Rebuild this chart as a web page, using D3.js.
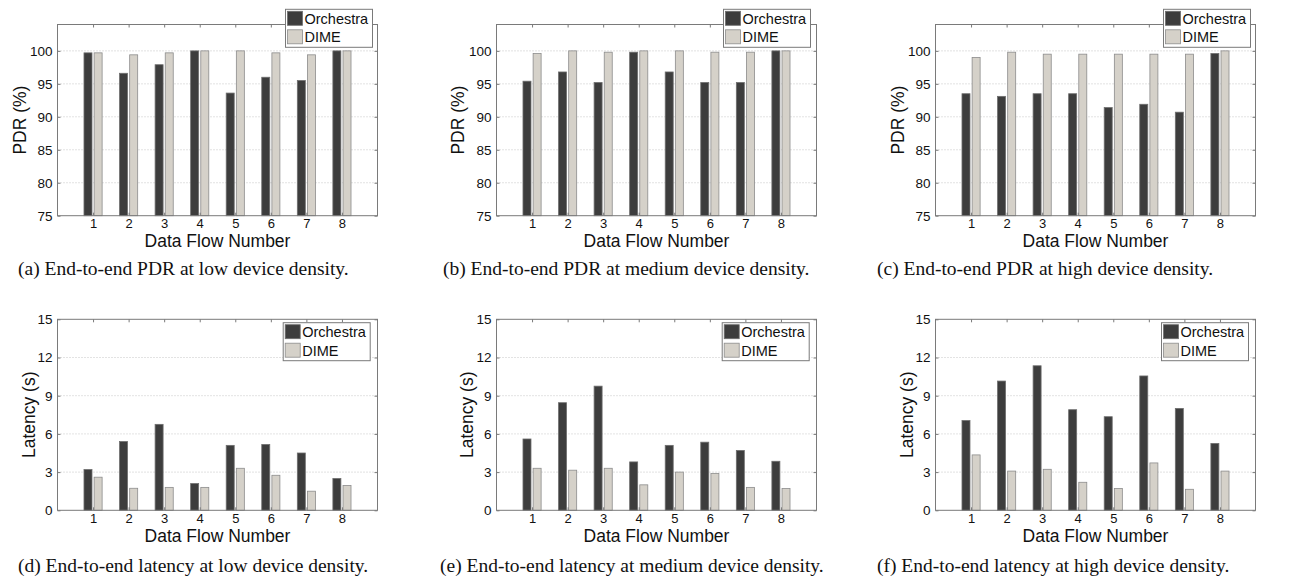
<!DOCTYPE html>
<html>
<head>
<meta charset="utf-8">
<script src="https://cdn.jsdelivr.net/npm/d3@7"></script>
<style>
  body { margin: 0; background: #fff; }
  svg { display: block; }
  text { font-family: Arial, "Liberation Sans", sans-serif; fill: #111; }
  .caption { font-family: "Times New Roman", "Liberation Serif", serif; }
</style>
</head>
<body>
<div id="fig"></div>
<script>
// Data
var flows = [1, 2, 3, 4, 5, 6, 7, 8];
var seriesNames = ["Orchestra", "DIME"];
var pdrTicks = [75, 80, 85, 90, 95, 100];
var latTicks = [0, 3, 6, 9, 12, 15];

var pdrLowOrch  = [99.7, 96.6, 97.9, 100, 93.6, 96.0, 95.5, 100];
var pdrLowDime  = [99.7, 99.4, 99.7, 100, 100, 99.7, 99.4, 100];
var pdrMedOrch  = [95.4, 96.8, 95.2, 99.8, 96.8, 95.2, 95.2, 100];
var pdrMedDime  = [99.6, 100, 99.8, 100, 100, 99.8, 99.8, 100];
var pdrHighOrch = [93.5, 93.1, 93.5, 93.5, 91.4, 91.9, 90.7, 99.6];
var pdrHighDime = [99.0, 99.8, 99.5, 99.5, 99.5, 99.5, 99.5, 100];

var latLowOrch  = [3.2, 5.4, 6.75, 2.1, 5.1, 5.17, 4.5, 2.5];
var latLowDime  = [2.6, 1.73, 1.8, 1.8, 3.3, 2.75, 1.5, 1.95];
var latMedOrch  = [5.6, 8.45, 9.75, 3.8, 5.1, 5.35, 4.7, 3.85];
var latMedDime  = [3.3, 3.15, 3.3, 2.0, 3.0, 2.9, 1.8, 1.72];
var latHighOrch = [7.05, 10.15, 11.35, 7.9, 7.35, 10.55, 8.0, 5.25];
var latHighDime = [4.35, 3.08, 3.22, 2.2, 1.72, 3.72, 1.65, 3.08];

var captions = [
  "(a) End-to-end PDR at low device density.",
  "(b) End-to-end PDR at medium device density.",
  "(c) End-to-end PDR at high device density.",
  "(d) End-to-end latency at low device density.",
  "(e) End-to-end latency at medium device density.",
  "(f) End-to-end latency at high device density."
];

var colors = ["#3d3d3d", "#d5d1c9"];
var edges = ["#6e6e6e", "#8c8c8c"];

// Canvas
var W = 1296, H = 584;
var svg = d3.select("#fig").append("svg")
    .attr("width", W)
    .attr("height", H);

var plotW = 320;
var lefts = [57.5, 496.5, 935.5];

var panels = [
  { orch: pdrLowOrch,  dime: pdrLowDime,  ticks: pdrTicks, dom: [75, 104], top: 24.5,  h: 191.2, ylab: "PDR (%)",     col: 0, legTop: 9.3,   legRight: 5,   labOff: 37.7, capX: 18,  capY: 275 },
  { orch: pdrMedOrch,  dime: pdrMedDime,  ticks: pdrTicks, dom: [75, 104], top: 24.5,  h: 191.2, ylab: "PDR (%)",     col: 1, legTop: 9.3,   legRight: 6,   labOff: 38.5, capX: 443, capY: 275 },
  { orch: pdrHighOrch, dime: pdrHighDime, ticks: pdrTicks, dom: [75, 104], top: 24.5,  h: 191.2, ylab: "PDR (%)",     col: 2, legTop: 9.3,   legRight: 5,   labOff: 37.2, capX: 877, capY: 275 },
  { orch: latLowOrch,  dime: latLowDime,  ticks: latTicks, dom: [0, 15],   top: 319.3, h: 191,   ylab: "Latency (s)", col: 0, legTop: 322.7, legRight: 7.3, labOff: 28.5, capX: 18,  capY: 572 },
  { orch: latMedOrch,  dime: latMedDime,  ticks: latTicks, dom: [0, 15],   top: 319.3, h: 191,   ylab: "Latency (s)", col: 1, legTop: 322.7, legRight: 7.3, labOff: 29.5, capX: 440, capY: 572 },
  { orch: latHighOrch, dime: latHighDime, ticks: latTicks, dom: [0, 15],   top: 319.3, h: 191,   ylab: "Latency (s)", col: 2, legTop: 322.7, legRight: 7,   labOff: 28.5, capX: 877, capY: 572 }
];

panels.forEach(function(p, k) {
    var left = lefts[p.col];
    var g = svg.append("g")
        .attr("transform", "translate(" + left + "," + p.top + ")");

    var x = d3.scaleLinear().domain([0, 9]).range([0, plotW]);
    var y = d3.scaleLinear().domain(p.dom).range([p.h, 0]);

    // white background + grid
    g.append("rect")
        .attr("width", plotW).attr("height", p.h)
        .attr("fill", "#fff");

    g.selectAll(".grid").data(p.ticks.filter(function(t) { return t > p.dom[0] && t < p.dom[1]; }))
        .enter().append("line")
        .attr("x1", 0).attr("x2", plotW)
        .attr("y1", function(d) { return y(d); })
        .attr("y2", function(d) { return y(d); })
        .attr("stroke", "#b8b8b8")
        .attr("stroke-width", 0.8)
        .attr("stroke-dasharray", "1,2");

    // bars
    var bw = 0.225, gap = 0.03;
    var series = [p.orch, p.dime];
    series.forEach(function(vals, s) {
        g.selectAll(".bar" + s).data(flows)
            .enter().append("rect")
            .attr("x", function(d) { return s === 0 ? x(d - gap - bw) : x(d + gap); })
            .attr("width", x(bw) - x(0))
            .attr("y", function(d, i) { return y(vals[i]); })
            .attr("height", function(d, i) { return y(p.dom[0]) - y(vals[i]); })
            .attr("fill", colors[s])
            .attr("stroke", edges[s])
            .attr("stroke-width", 0.8);
    });

    // box
    g.append("rect")
        .attr("width", plotW).attr("height", p.h)
        .attr("fill", "none")
        .attr("stroke", "#7a7a7a")
        .attr("stroke-width", 1);

    // axes (ticks inside, all four sides)
    var tl = 3;
    var xb = g.append("g").attr("transform", "translate(0," + p.h + ")")
        .call(d3.axisBottom(x).tickValues(flows).tickSizeInner(-tl).tickSizeOuter(0));
    xb.select(".domain").remove();
    xb.selectAll(".tick line").attr("stroke", "#7a7a7a");
    xb.selectAll("text").attr("font-size", "13px").attr("fill", "#111").attr("dy", "0.71em").attr("y", 3.5);

    var xt = g.append("g")
        .call(d3.axisTop(x).tickValues(flows).tickSizeInner(-tl).tickSizeOuter(0).tickFormat(""));
    xt.select(".domain").remove();
    xt.selectAll(".tick line").attr("stroke", "#7a7a7a");

    var yl = g.append("g")
        .call(d3.axisLeft(y).tickValues(p.ticks).tickSizeInner(-tl).tickSizeOuter(0));
    yl.select(".domain").remove();
    yl.selectAll(".tick line").attr("stroke", "#7a7a7a");
    yl.selectAll("text").attr("font-size", "13.5px").attr("fill", "#111").attr("x", -5);

    var yr = g.append("g").attr("transform", "translate(" + plotW + ",0)")
        .call(d3.axisRight(y).tickValues(p.ticks).tickSizeInner(-tl).tickSizeOuter(0).tickFormat(""));
    yr.select(".domain").remove();
    yr.selectAll(".tick line").attr("stroke", "#7a7a7a");

    // axis titles
    g.append("text")
        .attr("x", plotW / 2)
        .attr("y", p.h + 31.5)
        .attr("text-anchor", "middle")
        .attr("font-size", "17.5px")
        .text("Data Flow Number");

    g.append("text")
        .attr("transform", "translate(" + (-p.labOff + 6) + "," + (p.h / 2) + ") rotate(-90)")
        .attr("text-anchor", "middle")
        .attr("font-size", "17.5px")
        .text(p.ylab);

    // legend
    var lw = 87, lh = 38;
    var lg = svg.append("g")
        .attr("transform", "translate(" + (left + plotW - p.legRight - lw) + "," + p.legTop + ")");
    lg.append("rect")
        .attr("width", lw).attr("height", lh)
        .attr("fill", "#fff")
        .attr("stroke", "#7a7a7a")
        .attr("stroke-width", 1);
    seriesNames.forEach(function(name, s) {
        lg.append("rect")
            .attr("x", 2).attr("y", 2 + s * 18.5)
            .attr("width", 15).attr("height", 14)
            .attr("fill", colors[s])
            .attr("stroke", edges[s])
            .attr("stroke-width", 0.8);
        lg.append("text")
            .attr("x", 19).attr("y", 14.5 + s * 18.5)
            .attr("font-size", "14.5px")
            .text(name);
    });

    // caption
    svg.append("text")
        .attr("class", "caption")
        .attr("x", p.capX)
        .attr("y", p.capY)
        .attr("font-size", "19.5px")
        .text(captions[k]);
});
</script>
</body>
</html>
